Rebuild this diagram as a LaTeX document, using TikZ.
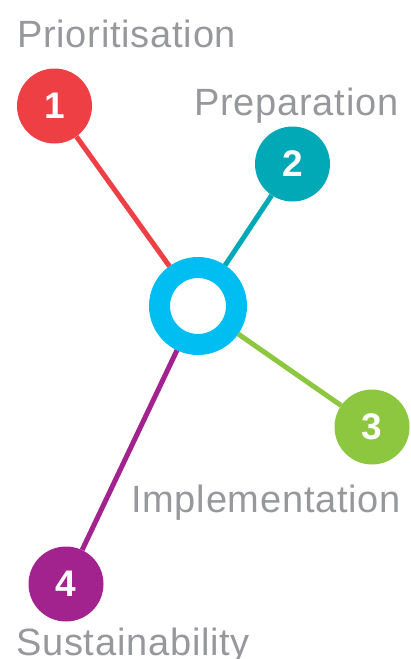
\documentclass[tikz,border=0pt]{standalone}
\usepackage{fontspec}
\setmainfont{Liberation Sans}
\definecolor{phasered}{HTML}{EE4044}
\definecolor{phaseteal}{HTML}{00A9B5}
\definecolor{phasecyan}{HTML}{00BDF2}
\definecolor{phasegreen}{HTML}{8DC63F}
\definecolor{phasepurple}{HTML}{A3238E}
\definecolor{labelgrey}{HTML}{97989B}
\newcommand{\PhaseText}[1]{{\fontsize{38}{44}\selectfont\addfontfeature{LetterSpace=2}#1}}

\begin{document}
\begin{tikzpicture}[x=1pt,y=-1pt,
    phase/.style={circle,fill=#1,text=white,inner sep=0pt,minimum size=75pt,
      font=\fontsize{37}{40}\selectfont\bfseries},
    spoke/.style={draw=#1,line width=5pt},
    caption/.style={anchor=base west,inner sep=0pt,text=labelgrey}]
    \useasboundingbox (0,0) rectangle (411,659);
    \node[circle,draw=phasecyan,line width=21pt,fill=white,inner sep=0pt,minimum size=77pt] (hub) at (198,306) {};
    \node[phase=phasered] (one) at (54.5,106) {1};
    \node[phase=phaseteal] (two) at (292.5,164) {2};
    \node[phase=phasegreen] (three) at (372,427) {3};
    \node[phase=phasepurple] (four) at (66,584) {4};
    %
    \draw[spoke=phasered] (hub) -- (one);
    \draw[spoke=phaseteal] (hub) -- (two);
    \draw[spoke=phasegreen] (hub) -- (three);
    \draw[spoke=phasepurple] (hub) -- (four);
    %
    \node[caption] (prio) at (17,47) {\PhaseText{Prioritisation}};
    \node[caption] (prep) at (194,115) {\PhaseText{Preparation}};
    \node[caption] (impl) at (131,512) {\PhaseText{Implementation}};
    \node[caption] (sust) at (16,655) {\PhaseText{Sustainability}};
\end{tikzpicture}
\end{document}
